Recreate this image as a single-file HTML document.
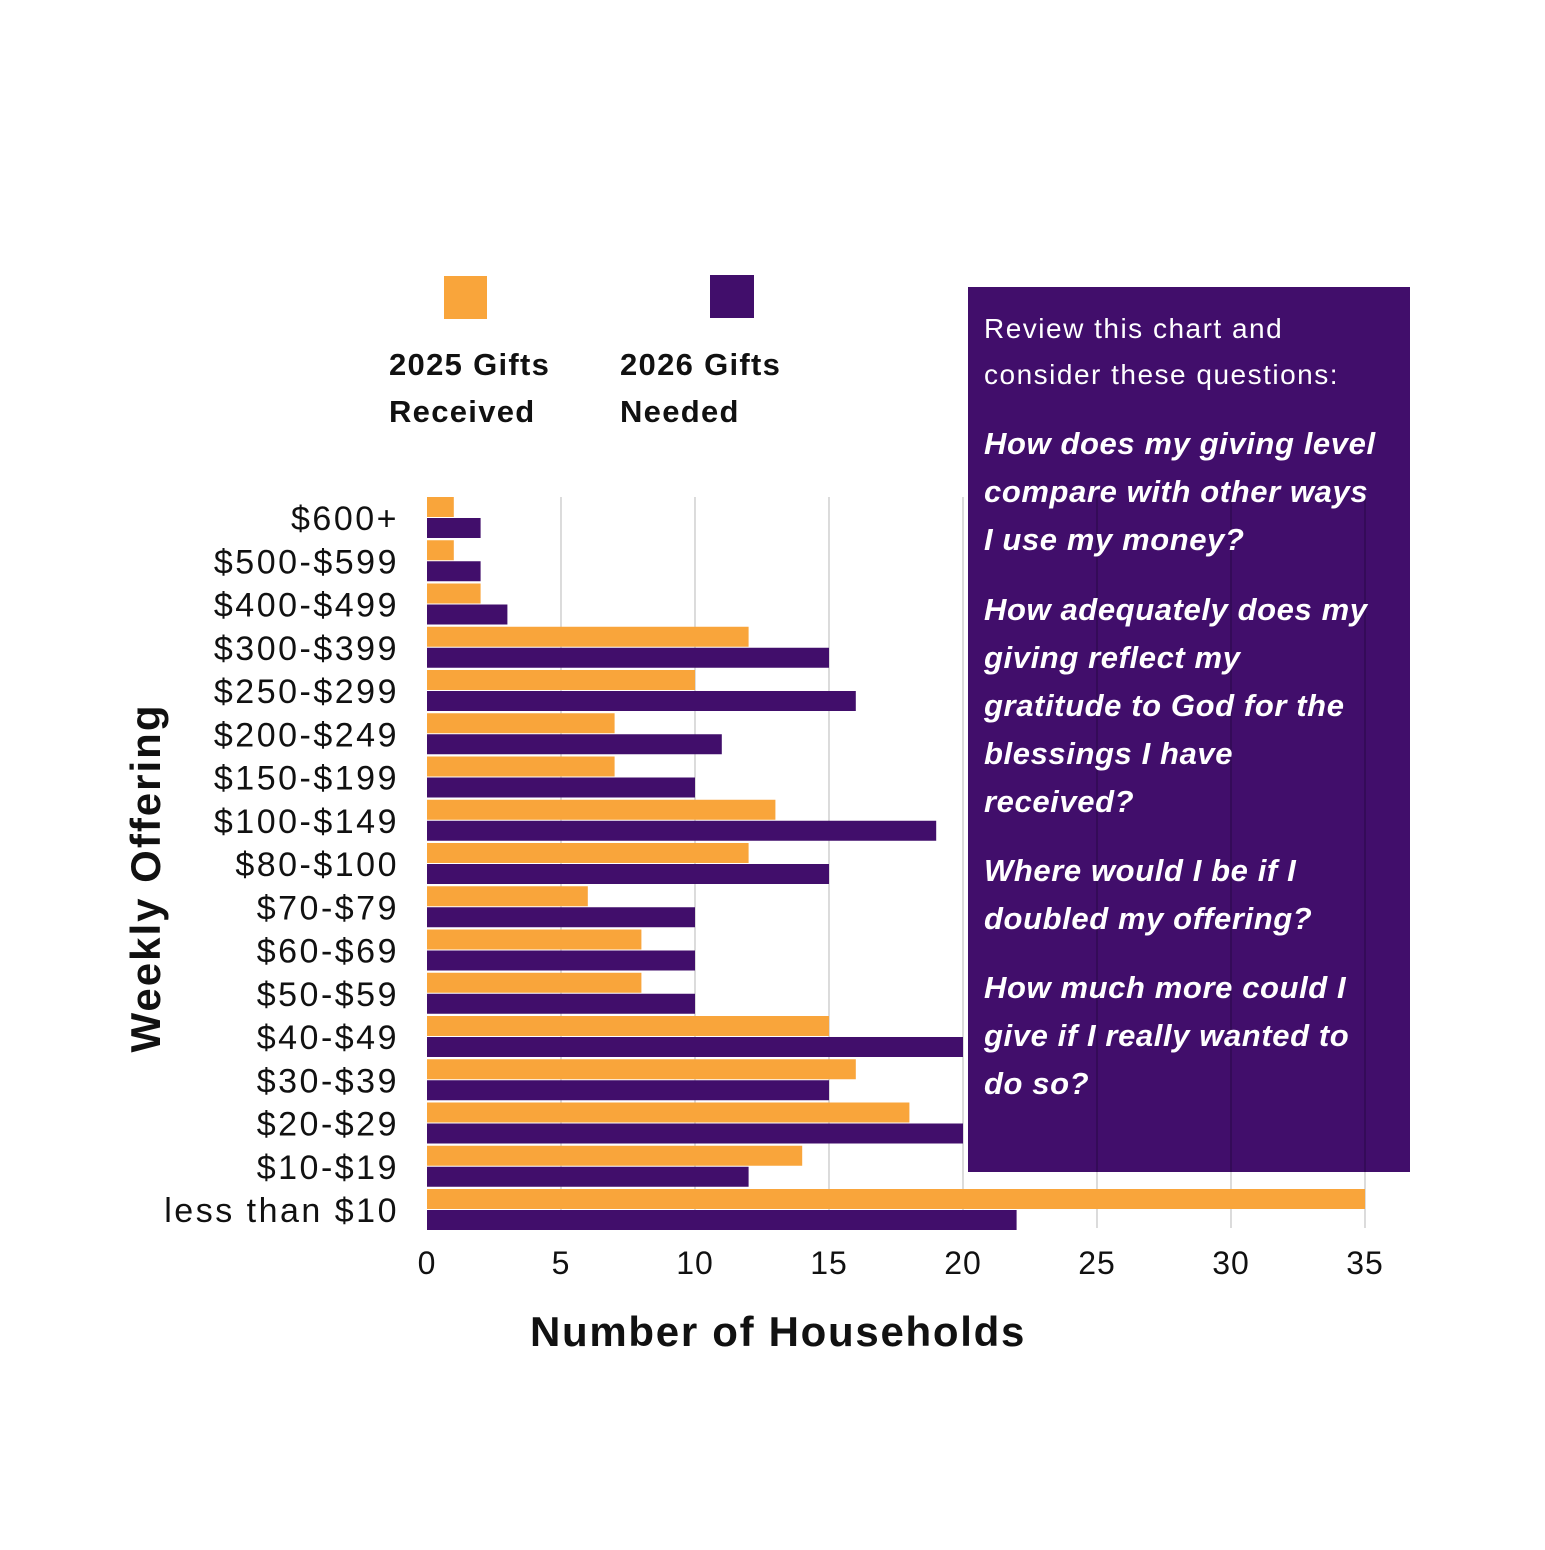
<!DOCTYPE html>
<html><head><meta charset="utf-8"><style>
html,body{margin:0;padding:0;background:#fff;}
svg text{font-family:"Liberation Sans",sans-serif;}
</style></head><body>
<svg id="chart" width="1545" height="1545" viewBox="0 0 1545 1545" xmlns="http://www.w3.org/2000/svg">
<g id="grid"></g>
<rect x="968" y="287" width="442" height="885" fill="#410e6b"/>
<g id="grid2"></g>
<g id="bars"></g>
<g id="ylabels"></g>
<g id="xlabels"></g>
<text x="778" y="1346" text-anchor="middle" font-size="42" font-weight="bold" letter-spacing="1.7" fill="#111">Number of Households</text>
<text transform="translate(160,878) rotate(-90)" text-anchor="middle" font-size="42" font-weight="bold" letter-spacing="2" fill="#111">Weekly Offering</text>
<rect x="444" y="276" width="43" height="43" fill="#f9a53b"/>
<rect x="710" y="275" width="44" height="43" fill="#410e6b"/>
<text x="389" y="375" font-size="31" font-weight="bold" letter-spacing="1.3" fill="#111"><tspan x="389">2025 Gifts</tspan><tspan x="389" dy="47">Received</tspan></text>
<text x="620" y="375" font-size="31" font-weight="bold" letter-spacing="1.3" fill="#111"><tspan x="620">2026 Gifts</tspan><tspan x="620" dy="47">Needed</tspan></text>
<g fill="#fff">
<text x="984" y="338" font-size="28" letter-spacing="1.5"><tspan x="984">Review this chart and</tspan><tspan x="984" dy="46">consider these questions:</tspan></text>
<g font-size="31" font-weight="bold" font-style="italic" letter-spacing="0.6">
<text x="984" y="454"><tspan x="984">How does my giving level</tspan><tspan x="984" dy="48">compare with other ways</tspan><tspan x="984" dy="48">I use my money?</tspan></text>
<text x="984" y="620"><tspan x="984">How adequately does my</tspan><tspan x="984" dy="48">giving reflect my</tspan><tspan x="984" dy="48">gratitude to God for the</tspan><tspan x="984" dy="48">blessings I have</tspan><tspan x="984" dy="48">received?</tspan></text>
<text x="984" y="881"><tspan x="984">Where would I be if I</tspan><tspan x="984" dy="48">doubled my offering?</tspan></text>
<text x="984" y="998"><tspan x="984">How much more could I</tspan><tspan x="984" dy="48">give if I really wanted to</tspan><tspan x="984" dy="48">do so?</tspan></text>
</g></g>
</svg>
<script>
const categories=["$600+","$500-$599","$400-$499","$300-$399","$250-$299","$200-$249","$150-$199","$100-$149","$80-$100","$70-$79","$60-$69","$50-$59","$40-$49","$30-$39","$20-$29","$10-$19","less than $10"];
const received2025=[1,1,2,12,10,7,7,13,12,6,8,8,15,16,18,14,35];
const needed2026=[2,2,3,15,16,11,10,19,15,10,10,10,20,15,20,12,22];
const xTicks=[0,5,10,15,20,25,30,35];
const NS="http://www.w3.org/2000/svg";
const x0=427,x1=1365,xMax=35,yTop=497,rowH=43.25,barH=20;
function xs(v){return x0+(x1-x0)*v/xMax;}
function ys(i){return yTop+i*rowH;}
function mk(tag,attrs,parent){const e=document.createElementNS(NS,tag);for(const k in attrs)e.setAttribute(k,attrs[k]);document.getElementById(parent).appendChild(e);return e;}
xTicks.forEach(t=>{
  if(t>0){
    const l=mk('line',{x1:xs(t),x2:xs(t),y1:497,y2:1228,stroke:'#c8c8c8','stroke-width':1.3},'grid');
    
    
    if(xs(t)>968){const l2=mk('line',{x1:xs(t),x2:xs(t),y1:497,y2:1172,stroke:'#2e0a4e','stroke-width':1.3},'grid2');
    
    }
  }
  const tx=mk('text',{x:xs(t),y:1274,'text-anchor':'middle','font-size':32,'letter-spacing':1,fill:'#111'},'xlabels');
  tx.textContent=t;
  
  
});
categories.forEach((c,i)=>{
  const a=mk('rect',{x:x0,y:ys(i),width:xs(received2025[i])-x0,height:barH,fill:'#f9a53b'},'bars');
  
  
  const b=mk('rect',{x:x0,y:ys(i)+barH+1,width:xs(needed2026[i])-x0,height:barH,fill:'#410e6b'},'bars');
  
  
  const t=mk('text',{x:399,y:ys(i)+33,'text-anchor':'end','font-size':34,'letter-spacing':2.5,fill:'#111'},'ylabels');
  t.textContent=c;
  
  
});
</script>
</body></html>
